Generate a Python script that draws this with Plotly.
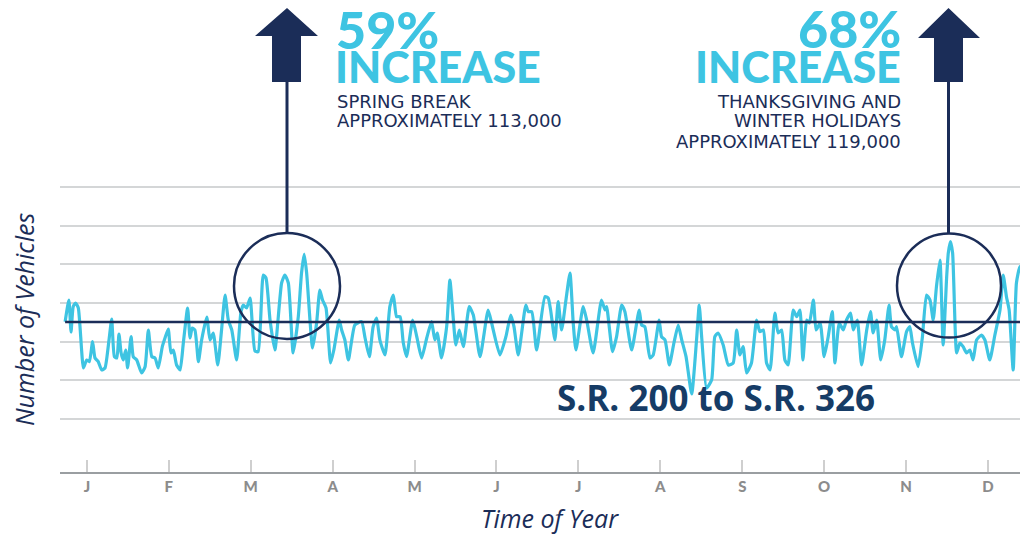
import plotly.graph_objects as go

# ---------------- data ----------------
days = [1.9, 3.3, 4.1, 4.9, 5.8, 6.8, 8.7, 9.9, 10.9, 12.1,
        13.0, 14.2, 15.5, 16.7, 18.2, 19.2, 20.2, 21.1, 21.9, 22.7,
        23.5, 24.4, 25.1, 26.4, 27.2, 28.5, 30.3, 31.6, 32.8, 34.1,
        35.3, 36.5, 38.0, 39.0, 40.2, 41.2, 42.1, 43.3, 44.6, 45.8,
        47.4, 48.3, 49.1, 50.1, 51.4, 52.6, 54.5, 55.7, 56.9, 58.6,
        60.0, 61.3, 62.5, 63.8, 65.6, 67.2, 68.1, 69.3, 70.6, 72.4,
        73.6, 75.5, 76.5, 78.0, 79.8, 82.3, 83.5, 84.8, 86.6, 88.5,
        89.7, 90.7, 91.6, 93.8, 95.3, 96.5, 97.5, 98.8, 100.5, 101.7,
        103.7, 104.6, 105.8, 107.1, 109.5, 112.0, 113.3, 114.9, 116.3, 117.6,
        118.8, 120.7, 122.5, 123.8, 125.0, 126.3, 127.5, 128.7, 131.0, 132.5,
        134.3, 136.2, 138.0, 139.2, 140.1, 141.7, 143.6, 144.8, 146.0, 147.0,
        148.3, 149.8, 152.0, 153.5, 156.0, 159.0, 160.3, 163.4, 165.6, 167.4,
        168.6, 170.2, 173.0, 173.9, 175.2, 177.0, 180.1, 181.3, 182.2, 183.8,
        185.0, 186.3, 187.9, 189.4, 190.6, 191.6, 194.3, 195.6, 198.0, 201.1,
        202.4, 203.0, 205.2, 206.7, 208.6, 209.8, 212.3, 215.1, 216.0, 217.2,
        219.1, 220.3, 222.5, 223.4, 224.7, 226.3, 228.0, 229.6, 230.9, 232.5,
        234.6, 236.4, 237.4, 238.3, 240.1, 242.0, 243.2, 244.4, 246.3, 248.2,
        250.0, 251.3, 252.5, 253.7, 255.0, 256.8, 258.7, 259.9, 261.2, 262.4,
        263.7, 265.5, 266.7, 268.0, 269.2, 270.4, 272.3, 273.6, 274.8, 275.9,
        277.3, 278.3, 279.8, 280.8, 282.3, 283.8, 285.3, 286.8, 287.8, 289.4,
        290.9, 292.1, 293.6, 294.6, 296.1, 297.7, 299.6, 301.0, 302.0, 303.3,
        304.8, 306.3, 307.9, 308.8, 310.1, 310.7, 312.5, 314.4, 315.6, 316.6,
        318.7, 320.3, 321.8, 323.1, 324.3, 325.5, 326.8, 328.0, 329.3, 329.9,
        330.7, 331.5, 333.0, 334.2, 335.4, 336.7, 337.9, 339.1, 340.4, 342.2,
        343.5, 345.3, 347.2, 349.1, 350.3, 351.5, 352.5, 354.0, 355.2, 356.5,
        357.7, 359.5]

vehicles = [71200, 84200, 65000, 80200, 82400, 79400, 43400, 48200, 47200, 59200,
            49400, 47200, 42200, 43400, 60200, 72800, 50200, 49400, 63800, 52400,
            48200, 54200, 43400, 62200, 50200, 48200, 40400, 44200, 66200, 50200,
            49400, 43400, 56200, 61400, 66800, 52400, 54200, 45200, 42200, 58400,
            79400, 61400, 67400, 66200, 47200, 60200, 74000, 60200, 64400, 45200,
            66200, 87200, 72200, 66200, 48200, 77000, 81200, 79400, 85400, 53600,
            53200, 99200, 97400, 72200, 54200, 94400, 99200, 94400, 52400, 74200,
            100400, 111800, 100400, 55400, 70400, 90200, 84200, 79400, 46400, 54200,
            72200, 66200, 60200, 48200, 69200, 71200, 61400, 50200, 68200, 73400,
            60200, 51200, 80200, 87200, 74200, 74200, 58400, 50200, 72200, 62200,
            49400, 61400, 71200, 60200, 64400, 49400, 68200, 96200, 74200, 57200,
            66200, 56200, 80200, 75200, 50200, 78200, 70400, 51200, 62200, 75200,
            68200, 51200, 81200, 77200, 77200, 54200, 86200, 85400, 78200, 60200,
            83200, 66200, 84200, 100400, 70400, 54200, 80200, 72200, 52400, 84200,
            78200, 80200, 53200, 62200, 81200, 77200, 54200, 78200, 69200, 68200,
            49400, 51200, 72200, 62200, 60200, 45200, 58400, 69200, 60200, 50200,
            27800, 60200, 81200, 62200, 31400, 36200, 62200, 64400, 57200, 45200,
            46400, 66200, 51200, 56200, 40400, 46400, 72200, 65200, 66200, 46400,
            42200, 76400, 64400, 66200, 48200, 45200, 78200, 74200, 78200, 48200,
            72200, 70400, 84200, 66200, 70400, 50200, 62200, 77200, 46400, 70400,
            66200, 72200, 76400, 66200, 72200, 45200, 66200, 77200, 64400, 72200,
            48200, 60200, 81200, 68200, 66200, 68200, 50200, 65200, 68200, 58400,
            44200, 62200, 87200, 84200, 72200, 92200, 108200, 57200, 98200, 112400,
            119200, 112400, 52400, 58400, 56200, 52400, 54200, 48200, 60200, 63200,
            60200, 48200, 63200, 78200, 99200, 86200, 78200, 42200, 94400, 104200,
            99200, 89200]

average_vehicles = 71000

month_labels = ["J", "F", "M", "A", "M", "J", "J", "A", "S", "O", "N", "D"]
month_positions = [10.0, 40.4, 70.8, 101.3, 131.7, 162.1, 192.5, 222.9, 253.4, 283.8, 314.2, 344.6]

grid_values = [12800, 36000, 59200, 82400, 105600, 128800, 152000]

assert len(days) == len(vehicles)

# ---------------- layout geometry ----------------
# The page body has an 8px margin, so the figure is sized 8px smaller
# and page-pixel positions are converted accordingly.
PAGE_OFF = 8
W, H = 1028 - PAGE_OFF, 534 - PAGE_OFF
PLOT_L, PLOT_R, PLOT_T, PLOT_B = 60, 1028, 8, 472      # page pixels
ML, MR, MT, MB = PLOT_L - PAGE_OFF, 1028 - PLOT_R, PLOT_T - PAGE_OFF, 534 - PLOT_B
PW, PH = PLOT_R - PLOT_L, PLOT_B - PLOT_T

CYAN = "#3EC4E2"
NAVY = "#1B2D58"
SR_BLUE = "#163C66"
GRID = "#D4D6D7"


def xp(px):
    return (px - PLOT_L) / PW


def yp(py):
    return (PLOT_B - py) / PH


fig = go.Figure()
fig.add_trace(go.Scatter(x=days, y=vehicles, mode="lines",
                         line=dict(color=CYAN, width=3.2, shape="spline", smoothing=0.5),
                         hoverinfo="skip"))
fig.add_trace(go.Scatter(x=[days[0], days[-1]], y=[average_vehicles, average_vehicles],
                         mode="lines", line=dict(color=NAVY, width=2.6), hoverinfo="skip"))

shapes = []
# circles around the two peaks
for (x0, x1, y0, y1) in [(234, 340, 339, 233), (897, 1001, 337.5, 233.5)]:
    shapes.append(dict(type="circle", xref="paper", yref="paper",
                       x0=xp(x0), x1=xp(x1), y0=yp(y0), y1=yp(y1),
                       line=dict(color=NAVY, width=2.5)))
# up arrows
for (cx, bl, br, tl, tr, apex_y, base_y, box_bot, line_bot) in [
        (287, 272, 301, 255, 318, 8, 36, 82, 233),
        (948.5, 934, 963, 918, 980, 8, 38, 82, 233.5)]:
    shapes.append(dict(type="line", xref="paper", yref="paper",
                       x0=xp(cx), x1=xp(cx), y0=yp(line_bot), y1=yp(box_bot - 2),
                       line=dict(color=NAVY, width=3)))
    path = (f"M {xp(bl)} {yp(box_bot)} L {xp(bl)} {yp(base_y)} L {xp(tl)} {yp(base_y)} "
            f"L {xp(cx)} {yp(apex_y)} L {xp(tr)} {yp(base_y)} L {xp(br)} {yp(base_y)} "
            f"L {xp(br)} {yp(box_bot)} Z")
    shapes.append(dict(type="path", xref="paper", yref="paper", path=path,
                       fillcolor=NAVY, line=dict(color=NAVY, width=0)))

fig.update_layout(shapes=shapes)

BIG = dict(family="Lato", size=52, color=CYAN, weight=900)
MID = dict(family="Lato", size=43, color=CYAN, weight=900)
SMALL = dict(family="DejaVu Sans", size=18, color=NAVY)
ITAL = dict(family="Open Sans", size=25, color=NAVY)


def ann(text, x, y, font, xanchor="left", yanchor="middle", angle=0):
    fig.add_annotation(text=text, x=xp(x), y=yp(y), xref="paper", yref="paper",
                       xanchor=xanchor, yanchor=yanchor, showarrow=False,
                       font=font, textangle=angle)


ann("59%", 334, 29, BIG)
ann("INCREASE", 333, 66, MID)
ann("SPRING BREAK", 335, 101, SMALL)
ann("APPROXIMATELY 113,000", 335, 121, SMALL)

ann("68%", 903, 28, BIG, xanchor="right")
ann("INCREASE", 903, 66, MID, xanchor="right")
ann("THANKSGIVING AND", 903, 101, SMALL, xanchor="right")
ann("WINTER HOLIDAYS", 903, 121, SMALL, xanchor="right")
ann("APPROXIMATELY 119,000", 903, 141, SMALL, xanchor="right")

ann("S.R. 200 to S.R. 326", 716, 398,
    dict(family="Open Sans", size=35, color=SR_BLUE, weight="bold"), xanchor="center")
ann("<i>Number of Vehicles</i>", 24, 320, ITAL, xanchor="center", angle=-90)
ann("<i>Time of Year</i>", 550, 518, ITAL, xanchor="center")

fig.update_layout(
    width=W, height=H,
    margin=dict(l=ML, r=MR, t=MT, b=MB, autoexpand=False),
    paper_bgcolor="white", plot_bgcolor="white",
    showlegend=False,
    xaxis=dict(range=[0, 359.5], tickvals=month_positions, ticktext=month_labels,
               ticks="inside", ticklen=12, tickwidth=1.5, tickcolor="#CFCFCF",
               showgrid=False, zeroline=False, showline=True, linecolor="#9A9EA1",
               linewidth=1.5, ticklabelstandoff=0,
               tickfont=dict(family="Lato", size=15, color="#8C8C8C", weight=900)),
    yaxis=dict(range=[-19000, 259400], tickvals=grid_values, showticklabels=False,
               showgrid=True, gridcolor=GRID, gridwidth=2, zeroline=False,
               showline=False, ticks=""),
)

fig.write_html("out.html")
